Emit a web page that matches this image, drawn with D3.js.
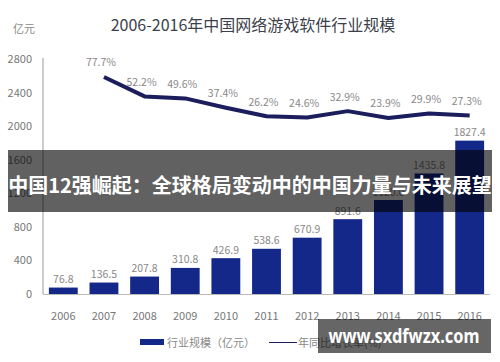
<!DOCTYPE html>
<html>
<head>
<meta charset="utf-8">
<script src="https://cdn.jsdelivr.net/npm/d3@7"></script>
<style>
  body { margin: 0; background: #fff; }
  svg { display: block; font-family: "Noto Sans CJK SC", "Noto Sans", sans-serif; }
</style>
</head>
<body>
<div id="chart"></div>
<script>
var width = 500;
var height = 362;

var years = ["2006", "2007", "2008", "2009", "2010", "2011", "2012", "2013", "2014", "2015", "2016"];
var revenue = [76.8, 136.5, 207.8, 310.8, 426.9, 538.6, 670.9, 891.6, 1120.0, 1435.8, 1827.4];
var growth = [null, 77.7, 52.2, 49.6, 37.4, 26.2, 24.6, 32.9, 23.9, 29.9, 27.3];
var yTicks = [0, 400, 800, 1200, 1600, 2000, 2400, 2800];

var svg = d3.select("#chart").append("svg")
          .attr("width", width)
          .attr("height", height);

var x = d3.scaleBand().domain(years).range([43, 490]).paddingInner(0.29).paddingOuter(0.145);
var y = d3.scaleLinear().domain([0, 2800]).range([294, 59]);
var y2 = d3.scaleLinear().domain([0, 100]).range([136.2, 60]);

// title
svg.append("text")
   .attr("x", 253).attr("y", 24)
   .attr("text-anchor", "middle").attr("dominant-baseline", "central")
   .attr("font-size", 16).attr("fill", "#3c3f4c")
   .text("2006-2016年中国网络游戏软件行业规模");

svg.append("text")
   .attr("x", 13).attr("y", 28)
   .attr("dominant-baseline", "central")
   .attr("font-size", 11).attr("fill", "#888")
   .text("亿元");

// y axis
svg.append("line")
   .attr("x1", 43).attr("x2", 43).attr("y1", 58).attr("y2", 294)
   .attr("stroke", "#999").attr("stroke-width", 1);

svg.selectAll(".ytick")
   .data(yTicks)
   .enter().append("text")
   .attr("class", "ytick")
   .attr("x", 32)
   .attr("y", function(d) { return y(d) - 1; })
   .attr("text-anchor", "end").attr("dominant-baseline", "central")
   .attr("font-size", 11).attr("fill", "#777")
   .text(function(d) { return d; });

// bars
svg.selectAll(".bar")
   .data(revenue)
   .enter().append("rect")
   .attr("class", "bar")
   .attr("x", function(d, i) { return x(years[i]); })
   .attr("width", x.bandwidth())
   .attr("y", function(d) { return y(d); })
   .attr("height", function(d) { return y(0) - y(d); })
   .attr("fill", "#14288a");

svg.selectAll(".barlabel")
   .data(revenue)
   .enter().append("text")
   .attr("class", "barlabel")
   .attr("x", function(d, i) { return x(years[i]) + x.bandwidth() / 2; })
   .attr("y", function(d) { return y(d) - 9; })
   .attr("text-anchor", "middle").attr("dominant-baseline", "central")
   .attr("font-size", 10.5).attr("fill", "#888")
   .text(function(d) { return d.toFixed(1); });

// baseline
svg.append("line")
   .attr("x1", 43).attr("x2", 490).attr("y1", 294.5).attr("y2", 294.5)
   .attr("stroke", "#bbb").attr("stroke-width", 1);

svg.selectAll(".year")
   .data(years)
   .enter().append("text")
   .attr("class", "year")
   .attr("x", function(d) { return x(d) + x.bandwidth() / 2; })
   .attr("y", 315)
   .attr("text-anchor", "middle").attr("dominant-baseline", "central")
   .attr("font-size", 11).attr("fill", "#777")
   .text(function(d) { return d; });

// growth line
var pts = growth.map(function(g, i) { return { year: years[i], g: g }; })
                .filter(function(d) { return d.g !== null; });

var line = d3.line()
   .x(function(d) { return x(d.year) + x.bandwidth() / 2; })
   .y(function(d) { return y2(d.g); });

svg.append("path")
   .datum(pts)
   .attr("d", line)
   .attr("fill", "none")
   .attr("stroke", "#1b1d5c")
   .attr("stroke-width", 4)
   .attr("stroke-linejoin", "round");

svg.selectAll(".glabel")
   .data(pts)
   .enter().append("text")
   .attr("class", "glabel")
   .attr("x", function(d) { return x(d.year) + x.bandwidth() / 2 - 3; })
   .attr("y", function(d) { return y2(d.g) - 15; })
   .attr("text-anchor", "middle").attr("dominant-baseline", "central")
   .attr("font-size", 10.5).attr("fill", "#888")
   .text(function(d) { return d.g.toFixed(1) + "%"; });

// legend
svg.append("rect")
   .attr("x", 140).attr("y", 339).attr("width", 24).attr("height", 6)
   .attr("fill", "#14288a");
svg.append("text")
   .attr("x", 167).attr("y", 342)
   .attr("dominant-baseline", "central")
   .attr("font-size", 11).attr("fill", "#888")
   .text("行业规模（亿元）");
svg.append("line")
   .attr("x1", 269).attr("x2", 297).attr("y1", 342.5).attr("y2", 342.5)
   .attr("stroke", "#1b1d5c").attr("stroke-width", 1);
svg.append("text")
   .attr("x", 298).attr("y", 342)
   .attr("dominant-baseline", "central")
   .attr("font-size", 11).attr("fill", "#888")
   .text("年同比增长率(%)");

// overlay banner
svg.append("rect")
   .attr("x", 8).attr("y", 150).attr("width", 484).attr("height", 62)
   .attr("fill", "rgba(0,0,0,0.62)");
svg.append("text")
   .attr("x", 250).attr("y", 184)
   .attr("text-anchor", "middle").attr("dominant-baseline", "central")
   .attr("font-size", 20).attr("font-weight", "bold").attr("fill", "#fff")
   .text("中国12强崛起：全球格局变动中的中国力量与未来展望");

// watermark
svg.append("rect")
   .attr("x", 318).attr("y", 319).attr("width", 173).attr("height", 34)
   .attr("fill", "rgba(0,0,0,0.6)");
svg.append("text")
   .attr("x", 404).attr("y", 335)
   .attr("text-anchor", "middle").attr("dominant-baseline", "central")
   .attr("font-family", "'Noto Sans', 'Open Sans', sans-serif")
   .attr("font-size", 20).attr("font-weight", "bold").attr("fill", "#fff")
   .attr("textLength", 151).attr("lengthAdjust", "spacingAndGlyphs")
   .text("www.sxdfwzx.com");
</script>
</body>
</html>
